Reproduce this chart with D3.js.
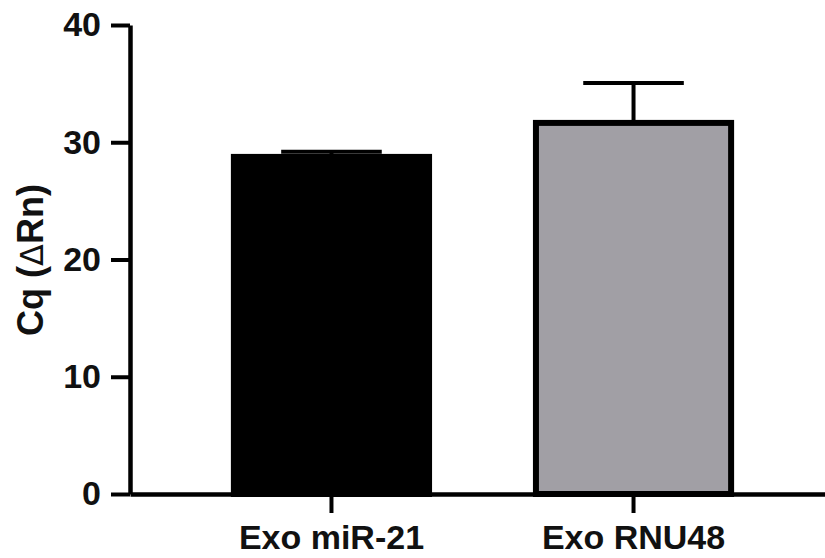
<!DOCTYPE html>
<html><head><meta charset="utf-8">
<script src="https://cdn.jsdelivr.net/npm/d3@7"></script>
<style>
html,body{margin:0;padding:0;background:#fff;}
svg{display:block;}
text{font-family:"Liberation Sans",Arial,sans-serif;font-weight:bold;fill:#111;}
</style></head>
<body>
<script>
const categories = ["Exo miR-21", "Exo RNU48"];
const values = [28.75, 31.65];
const errors = [0.45, 3.4];
const fills = ["#000000", "#a19fa5"];
const yTicks = [0, 10, 20, 30, 40];
const yLabelParts = ["Cq (", "\u0394", "Rn)"];

const W = 825, H = 558;
const svg = d3.select("body").append("svg").attr("width", W).attr("height", H);

const x = d3.scaleBand().domain(categories).range([130, 835]).paddingInner(0.334).paddingOuter(0.334);
const y = d3.scaleLinear().domain([0, 40]).range([494, 25]);

// bars
const g = svg.append("g");
categories.forEach((c, i) => {
  const xc = x(c) + x.bandwidth() / 2;
  const top = y(values[i] + errors[i]);
  g.append("line").attr("x1", xc).attr("x2", xc).attr("y1", y(values[i])).attr("y2", top)
    .attr("stroke", "#000").attr("stroke-width", 4);
  g.append("line").attr("x1", xc - x.bandwidth() / 4).attr("x2", xc + x.bandwidth() / 4)
    .attr("y1", top).attr("y2", top).attr("stroke", "#000").attr("stroke-width", 4);
});
g.selectAll("rect").data(categories).join("rect")
  .attr("x", d => x(d) + 3)
  .attr("width", x.bandwidth() - 6)
  .attr("y", (d, i) => y(values[i]))
  .attr("height", (d, i) => y(0) - y(values[i]))
  .attr("fill", (d, i) => fills[i])
  .attr("stroke", "#000").attr("stroke-width", 6);

// y axis
const yAxis = svg.append("g").attr("transform", "translate(130,0)")
  .call(d3.axisLeft(y).tickValues(yTicks).tickSize(19).tickPadding(10).tickSizeOuter(0));
yAxis.select(".domain").attr("stroke", "#000").attr("stroke-width", 4.5);
yAxis.selectAll(".tick line").attr("stroke", "#000").attr("stroke-width", 4);
yAxis.selectAll(".tick text").attr("font-size", 34).attr("fill", "#111")
  .attr("font-family", "Liberation Sans, Arial, sans-serif").attr("font-weight", "bold");

// x axis
const xAxis = svg.append("g").attr("transform", "translate(0,494)")
  .call(d3.axisBottom(x).tickSize(19).tickPadding(12).tickSizeOuter(0));
xAxis.select(".domain").attr("stroke", "#000").attr("stroke-width", 4.5);
xAxis.selectAll(".tick line").attr("stroke", "#000").attr("stroke-width", 4);
xAxis.selectAll(".tick text").attr("font-size", 34).attr("fill", "#111")
  .attr("font-family", "Liberation Sans, Arial, sans-serif").attr("font-weight", "bold");

// y label
const yl = svg.append("text")
  .attr("transform", "translate(43,260) rotate(-90)")
  .attr("text-anchor", "middle")
  .attr("font-size", 36);
yl.append("tspan").text(yLabelParts[0]);
yl.append("tspan").attr("font-weight", "normal").attr("font-family", "DejaVu Sans").attr("font-size", 32).text(yLabelParts[1]);
yl.append("tspan").text(yLabelParts[2]);
</script>
</body></html>
